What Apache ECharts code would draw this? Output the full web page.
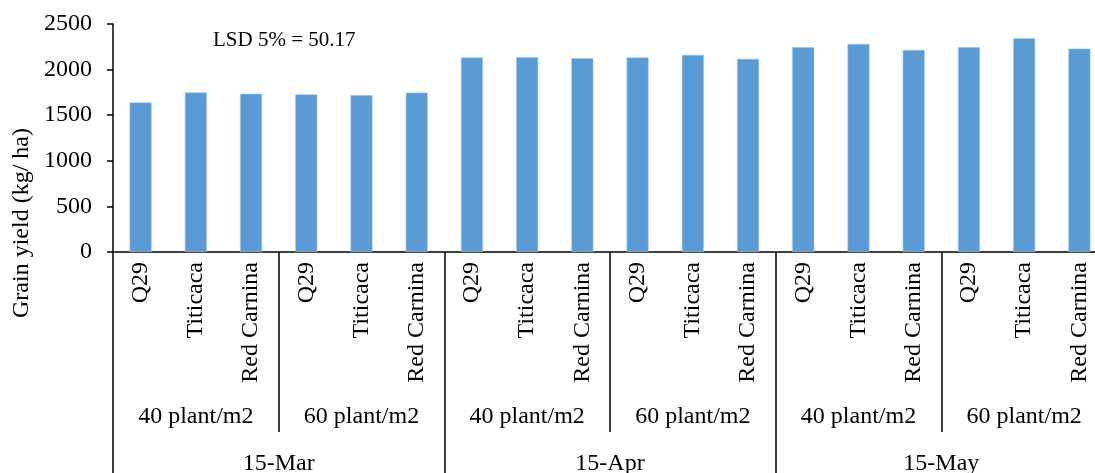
<!DOCTYPE html>
<html>
<head>
<meta charset="utf-8">
<script src="https://cdn.jsdelivr.net/npm/echarts@6/dist/echarts.min.js"></script>
<style>
html,body{margin:0;padding:0;background:#fff;}
#chart{width:1095px;height:473px;}
</style>
</head>
<body>
<div id="chart"></div>
<script>
var varieties = ['Q29', 'Titicaca', 'Red Carnina'];
var densities = ['40 plant/m2', '60 plant/m2'];
var dates = ['15-Mar', '15-Apr', '15-May'];
var yields = [1640, 1750, 1735, 1728, 1718, 1748,
              2132, 2136, 2125, 2132, 2162, 2118,
              2245, 2280, 2216, 2245, 2343, 2230];
var yTicks = {min: 0, max: 2500, interval: 500};
var yTitle = 'Grain yield (kg/ ha)';
var note = 'LSD 5% = 50.17';

var font = 'Liberation Serif';
var varCats = [], denCats = [];
dates.forEach(function () {
  densities.forEach(function (d) {
    denCats.push(d);
    varieties.forEach(function (v) { varCats.push(v); });
  });
});

var chart = echarts.init(document.getElementById('chart'));
var lineStyle = {color: '#000', width: 1.5};
chart.setOption({
  animation: false,
  grid: {left: 113, top: 24, width: 994, bottom: 221, containLabel: false, outerBoundsMode: 'none'},
  xAxis: [
    {
      type: 'category', data: varCats, position: 'bottom',
      axisLine: {show: true, lineStyle: lineStyle},
      axisTick: {show: false},
      axisLabel: {interval: 0, rotate: 90, margin: 10, fontFamily: font, fontSize: 24, color: '#000'}
    },
    {
      type: 'category', data: denCats, position: 'bottom', offset: 0,
      axisLine: {show: false},
      axisTick: {show: true, length: 180, interval: 0, lineStyle: lineStyle},
      axisLabel: {interval: 0, margin: 153, fontFamily: font, fontSize: 24, color: '#000'}
    },
    {
      type: 'category', data: dates, position: 'bottom', offset: 0,
      axisLine: {show: false},
      axisTick: {show: true, length: 225, interval: 0, lineStyle: lineStyle},
      axisLabel: {interval: 0, margin: 200, fontFamily: font, fontSize: 24, color: '#000'}
    }
  ],
  yAxis: {
    type: 'value', min: yTicks.min, max: yTicks.max, interval: yTicks.interval,
    axisLine: {show: true, lineStyle: lineStyle},
    axisTick: {show: true, length: 6, lineStyle: lineStyle},
    splitLine: {show: false},
    axisLabel: {margin: 21, fontFamily: font, fontSize: 24, color: '#000',
                formatter: function (v) { return String(v); }}
  },
  series: [{
    type: 'bar', xAxisIndex: 0, data: yields, barWidth: 22,
    itemStyle: {color: '#5B9BD5', borderColor: '#9DC3E6', borderWidth: 0.6}
  }],
  graphic: [
    {type: 'text', x: 22, y: 223, rotation: Math.PI / 2,
     style: {text: yTitle, font: '24px "Liberation Serif"', fill: '#000', textAlign: 'center', textVerticalAlign: 'middle'}},
    {type: 'text', x: 213, y: 40,
     style: {text: note, font: '21px "Liberation Serif"', fill: '#000', textAlign: 'left', textVerticalAlign: 'middle'}}
  ]
});
</script>
</body>
</html>
